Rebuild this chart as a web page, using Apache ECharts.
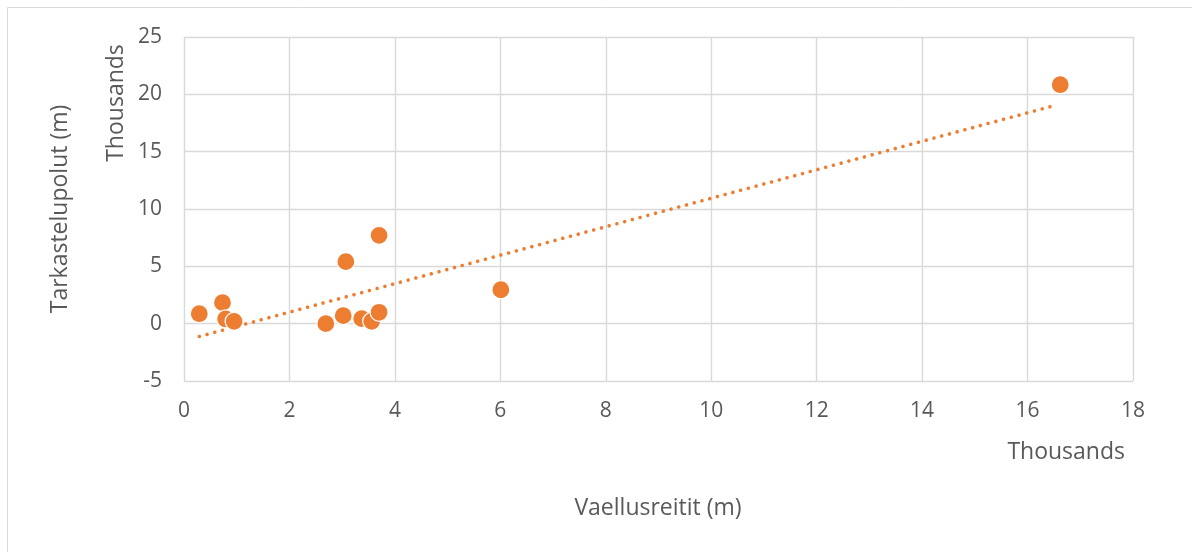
<!DOCTYPE html>
<html>
<head>
<meta charset="utf-8">
<script src="https://cdn.jsdelivr.net/npm/echarts@6/dist/echarts.min.js"></script>
<style>
html,body{margin:0;padding:0;background:#fff;}
#chart{width:1192px;height:552px;}
</style>
</head>
<body>
<div id="chart"></div>
<script>
// Data in thousands of metres
const hikeX = [0.29, 0.73, 0.79, 0.95, 2.69, 3.02, 3.37, 3.56, 3.70, 3.07, 3.70, 6.01, 16.62];
const viewY = [0.87, 1.83, 0.41, 0.20, 0.00, 0.70, 0.44, 0.20, 0.99, 5.41, 7.70, 2.96, 20.84];
const trendX = [0.29, 16.55];
const trendY = [-1.12, 19.07];
const xTicks = [0, 2, 4, 6, 8, 10, 12, 14, 16, 18];
const yTicks = [-5, 0, 5, 10, 15, 20, 25];

const txt = '#595959';
const font = 'Open Sans';
const chart = echarts.init(document.getElementById('chart'));
chart.setOption({
  animation: false,
  backgroundColor: '#fff',
  grid: { left: 184, right: 59, top: 37, bottom: 171, containLabel: false },
  xAxis: {
    type: 'value', min: xTicks[0], max: xTicks[xTicks.length - 1], interval: 2,
    axisLine: { show: false }, axisTick: { show: false },
    splitLine: { show: true, lineStyle: { color: '#d9d9d9', width: 1.4 } },
    axisLabel: { color: txt, fontFamily: font, fontSize: 21, margin: 20 }
  },
  yAxis: {
    type: 'value', min: yTicks[0], max: yTicks[yTicks.length - 1], interval: 5,
    axisLine: { show: false }, axisTick: { show: false },
    splitLine: { show: true, lineStyle: { color: '#d9d9d9', width: 1.4 } },
    axisLabel: { color: txt, fontFamily: font, fontSize: 21, margin: 22 }
  },
  series: [
    {
      type: 'line',
      data: trendX.map((x, i) => [x, trendY[i]]),
      symbol: 'none',
      lineStyle: { color: '#ED7D31', width: 3.6, type: [0.01, 8], cap: 'round' },
      z: 2
    },
    {
      type: 'scatter',
      data: hikeX.map((x, i) => [x, viewY[i]]),
      symbol: 'circle',
      symbolSize: 18,
      itemStyle: { color: '#ED7D31', borderColor: '#ffffff', borderWidth: 1.2, opacity: 1 },
      z: 3
    }
  ],
  graphic: [
    { type: 'rect', shape: { x: 7.5, y: 7.5, width: 1200, height: 600 }, style: { fill: 'none', stroke: '#d9d9d9', lineWidth: 1 }, silent: true },
    { type: 'text', x: 658, y: 508, style: { text: 'Vaellusreitit (m)', fill: txt, font: '23px "Open Sans"', textAlign: 'center', textVerticalAlign: 'middle' } },
    { type: 'text', x: 1125, y: 452, style: { text: 'Thousands', fill: txt, font: '23px "Open Sans"', textAlign: 'right', textVerticalAlign: 'middle' } },
    { type: 'text', x: 60, y: 209, rotation: Math.PI / 2, style: { text: 'Tarkastelupolut (m)', fill: txt, font: '23px "Open Sans"', textAlign: 'center', textVerticalAlign: 'middle' } },
    { type: 'text', x: 116, y: 103, rotation: Math.PI / 2, style: { text: 'Thousands', fill: txt, font: '23px "Open Sans"', textAlign: 'center', textVerticalAlign: 'middle' } }
  ]
});
</script>
</body>
</html>
